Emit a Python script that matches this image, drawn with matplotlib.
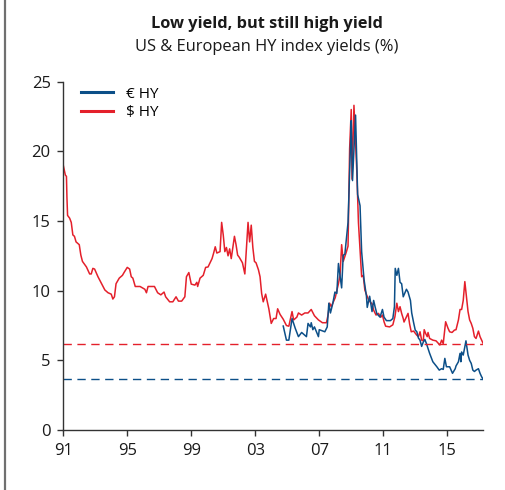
import matplotlib
matplotlib.use("Agg")
import matplotlib.pyplot as plt
from matplotlib.lines import Line2D

plt.rcParams["font.family"] = ["Open Sans", "DejaVu Sans"]

# US high yield index yield (%), decimal year
usd_years = [
    1991.0, 1991.13, 1991.2, 1991.23, 1991.27, 1991.4, 1991.5, 1991.6, 1991.7, 1991.8,
    1992.0, 1992.1, 1992.2, 1992.45, 1992.65, 1992.75, 1992.85, 1992.96, 1993.17, 1993.4,
    1993.6, 1993.8, 1994.0, 1994.1, 1994.2, 1994.3, 1994.5, 1994.7, 1994.8, 1995.0,
    1995.15, 1995.25, 1995.35, 1995.5, 1995.8, 1996.1, 1996.2, 1996.3, 1996.7, 1996.9,
    1997.1, 1997.3, 1997.4, 1997.65, 1997.85, 1998.05, 1998.2, 1998.4, 1998.6, 1998.7,
    1998.85, 1999.0, 1999.23, 1999.35, 1999.4, 1999.55, 1999.75, 1999.9, 2000.05, 2000.3,
    2000.4, 2000.5, 2000.6, 2000.8, 2000.9, 2001.0, 2001.1, 2001.2, 2001.3, 2001.4,
    2001.5, 2001.7, 2001.8, 2001.9, 2002.0, 2002.15, 2002.2, 2002.35, 2002.45, 2002.55,
    2002.65, 2002.75, 2002.85, 2002.95, 2003.05, 2003.2, 2003.3, 2003.4, 2003.5, 2003.65,
    2003.85, 2004.0, 2004.15, 2004.3, 2004.4, 2004.55, 2004.75, 2004.95, 2005.1, 2005.3,
    2005.4, 2005.6, 2005.7, 2005.9, 2006.1, 2006.3, 2006.5, 2006.7, 2006.95, 2007.2,
    2007.45, 2007.55, 2007.65, 2007.75, 2008.0, 2008.2, 2008.3, 2008.4, 2008.5, 2008.7,
    2008.8, 2008.9, 2009.0, 2009.05, 2009.17, 2009.35, 2009.45, 2009.65, 2009.75, 2009.85,
    2009.96, 2010.1, 2010.3, 2010.4, 2010.55, 2010.7, 2010.85, 2010.95, 2011.05, 2011.15,
    2011.4, 2011.6, 2011.73, 2011.85, 2011.95, 2012.05, 2012.15, 2012.25, 2012.3, 2012.45,
    2012.55, 2012.65, 2012.75, 2012.9, 2013.1, 2013.2, 2013.3, 2013.4, 2013.5, 2013.56,
    2013.65, 2013.75, 2013.8, 2013.9, 2014.1, 2014.3, 2014.54, 2014.65, 2014.75, 2014.9,
    2015.05, 2015.15, 2015.3, 2015.45, 2015.55, 2015.7, 2015.8, 2015.9, 2016.0, 2016.1,
    2016.2, 2016.3, 2016.4, 2016.5, 2016.6, 2016.7, 2016.8, 2016.95, 2017.05, 2017.15,
    2017.25,
]
usd_yield = [
    19.0, 18.3, 18.2, 16.7, 15.4, 15.2, 14.9, 14.0, 13.9, 13.5,
    13.3, 12.55, 12.1, 11.7, 11.2, 11.2, 11.6, 11.55, 11.0, 10.5,
    10.05, 9.85, 9.75, 9.4, 9.56, 10.5, 10.9, 11.1, 11.3, 11.67,
    11.55, 11.0, 10.9, 10.3, 10.3, 10.1, 9.85, 10.3, 10.3, 9.85,
    9.7, 9.9, 9.56, 9.2, 9.2, 9.56, 9.25, 9.25, 9.56, 11.0,
    11.3, 10.47, 10.4, 10.6, 10.3, 10.9, 11.1, 11.67, 11.7, 12.3,
    12.7, 13.15, 12.7, 12.8, 14.9, 14.0, 12.8, 13.1, 12.5, 13.0,
    12.3, 13.9, 13.3, 12.55, 12.4, 12.1, 12.0, 11.2, 13.0, 14.9,
    13.5, 14.7, 13.1, 12.1, 12.0, 11.5, 11.0, 9.8, 9.2, 9.75,
    8.7, 7.65, 8.0, 8.0, 8.7, 8.3, 7.95, 7.5, 7.45, 8.5,
    7.9, 8.1, 8.4, 8.25, 8.4, 8.4, 8.65, 8.2, 7.9, 7.7,
    7.7, 8.25, 9.1, 8.85, 9.5, 10.5, 11.1, 13.3, 12.1, 12.8,
    13.2, 20.2, 23.0, 18.0, 23.3, 18.5, 14.9, 11.0, 11.1, 10.05,
    9.7, 9.3, 9.05, 8.6, 8.25, 8.37, 8.1, 8.25, 7.77, 7.45,
    7.4, 7.55, 8.13, 9.1, 8.5, 8.85, 8.37, 8.0, 7.75, 8.13,
    8.37, 7.6, 7.05, 7.1, 6.8, 6.7, 7.05, 6.45, 6.4, 7.2,
    6.93, 6.7, 7.0, 6.57, 6.45, 6.4, 6.1, 6.45, 6.2, 7.77,
    7.3, 7.05, 7.0, 7.17, 7.2, 7.9, 8.65, 8.65, 9.3, 10.65,
    9.6, 8.5, 7.9, 7.65, 7.3, 6.7, 6.57, 7.1, 6.7, 6.45,
    6.2,
]

# European high yield index yield (%), decimal year
eur_years = [
    2004.75, 2004.95, 2005.1, 2005.3, 2005.5, 2005.7, 2005.9, 2006.1, 2006.2, 2006.3,
    2006.45, 2006.5, 2006.6, 2006.7, 2006.95, 2007.0, 2007.35, 2007.5, 2007.6, 2007.7,
    2007.85, 2007.98, 2008.1, 2008.2, 2008.4, 2008.5, 2008.6, 2008.8, 2008.96, 2009.0,
    2009.08, 2009.27, 2009.4, 2009.55, 2009.65, 2009.8, 2009.95, 2010.0, 2010.15, 2010.3,
    2010.4, 2010.5, 2010.6, 2010.8, 2010.95, 2011.05, 2011.2, 2011.45, 2011.6, 2011.7,
    2011.75, 2011.85, 2011.95, 2012.05, 2012.15, 2012.25, 2012.45, 2012.55, 2012.7, 2012.78,
    2012.9, 2013.0, 2013.1, 2013.2, 2013.3, 2013.4, 2013.5, 2013.6, 2013.7, 2013.9,
    2014.1, 2014.35, 2014.5, 2014.65, 2014.75, 2014.85, 2014.95, 2015.15, 2015.33, 2015.5,
    2015.55, 2015.7, 2015.8, 2015.85, 2015.9, 2016.0, 2016.1, 2016.17, 2016.3, 2016.4,
    2016.5, 2016.6, 2016.7, 2016.8, 2016.95, 2017.05, 2017.15, 2017.25,
]
eur_yield = [
    7.46, 6.45, 6.45, 8.0, 7.3, 6.7, 7.0, 6.8, 6.7, 7.65,
    7.4, 7.7, 7.2, 7.4, 6.7, 7.2, 7.05, 7.4, 9.1, 8.4,
    9.1, 9.9, 9.8, 11.95, 10.2, 12.55, 12.6, 14.9, 20.7, 22.2,
    17.9, 22.6, 16.9, 16.1, 12.8, 10.8, 9.6, 8.8, 9.6, 8.5,
    9.3, 8.8, 8.35, 8.1, 8.65, 8.1, 7.85, 7.85, 8.0, 8.85,
    11.6, 11.1, 11.6, 10.6, 10.5, 9.56, 10.1, 9.9, 9.3, 8.4,
    7.7, 7.17, 7.05, 6.6, 6.45, 6.0, 6.3, 6.5, 6.2, 5.5,
    4.9, 4.54, 4.3, 4.4, 4.35, 5.14, 4.54, 4.54, 4.07, 4.4,
    4.6, 4.9, 5.5, 4.9, 5.6, 5.38, 5.97, 6.4, 5.38, 5.0,
    4.78, 4.3, 4.2, 4.3, 4.4, 4.07, 3.82, 3.64,
]

tick_years = [1991, 1995, 1999, 2003, 2007, 2011, 2015]
tick_labels = ["91", "95", "99", "03", "07", "11", "15"]

red = "#e4202b"
blue = "#0c4f88"

fig = plt.figure(figsize=(5.06, 4.90), dpi=100)
ax = fig.add_axes([0.125, 0.1224, 0.830, 0.711])

ax.plot(usd_years, usd_yield, color=red, lw=1.1, label="$ HY")
ax.plot(eur_years, eur_yield, color=blue, lw=1.1, label="€ HY")

# current levels carried back across the whole period
ax.axhline(usd_yield[-1], color=red, lw=1.0, ls=(0, (6, 4)))
ax.axhline(eur_yield[-1], color=blue, lw=1.0, ls=(0, (6, 4)))

ax.set_xlim(1991, 2017.25)
ax.set_ylim(0, 25)
ax.set_xticks(tick_years)
ax.set_xticklabels(tick_labels)
ax.set_yticks([0, 5, 10, 15, 20, 25])

for side in ["top", "right"]:
    ax.spines[side].set_visible(False)
for side in ["left", "bottom"]:
    ax.spines[side].set_color("#333333")
    ax.spines[side].set_linewidth(1.0)
ax.tick_params(axis="both", direction="out", length=4, width=1.0,
               color="#333333", labelsize=12, labelcolor="#1a1a1a")
ax.tick_params(axis="x", pad=5)
ax.tick_params(axis="y", pad=5)

handles, labels = ax.get_legend_handles_labels()
leg = ax.legend(handles[::-1], labels[::-1], loc="upper left",
                bbox_to_anchor=(0.01, 1.025), frameon=False, fontsize=11,
                handlelength=2.1, handletextpad=0.8, labelspacing=0.25)
for line in leg.get_lines():
    line.set_linewidth(2.2)

fig.text(0.528, 0.951, "Low yield, but still high yield", ha="center",
         va="center", fontsize=11.8, fontweight="bold", color="#1a1a1a")
fig.text(0.527, 0.904, "US & European HY index yields (%)", ha="center",
         va="center", fontsize=11.9, color="#1a1a1a")

# grey rule down the left edge
fig.add_artist(Line2D([5 / 506, 5 / 506], [0, 1], transform=fig.transFigure,
                      color="#707070", lw=1.6))

fig.savefig("out.png", dpi=100)
